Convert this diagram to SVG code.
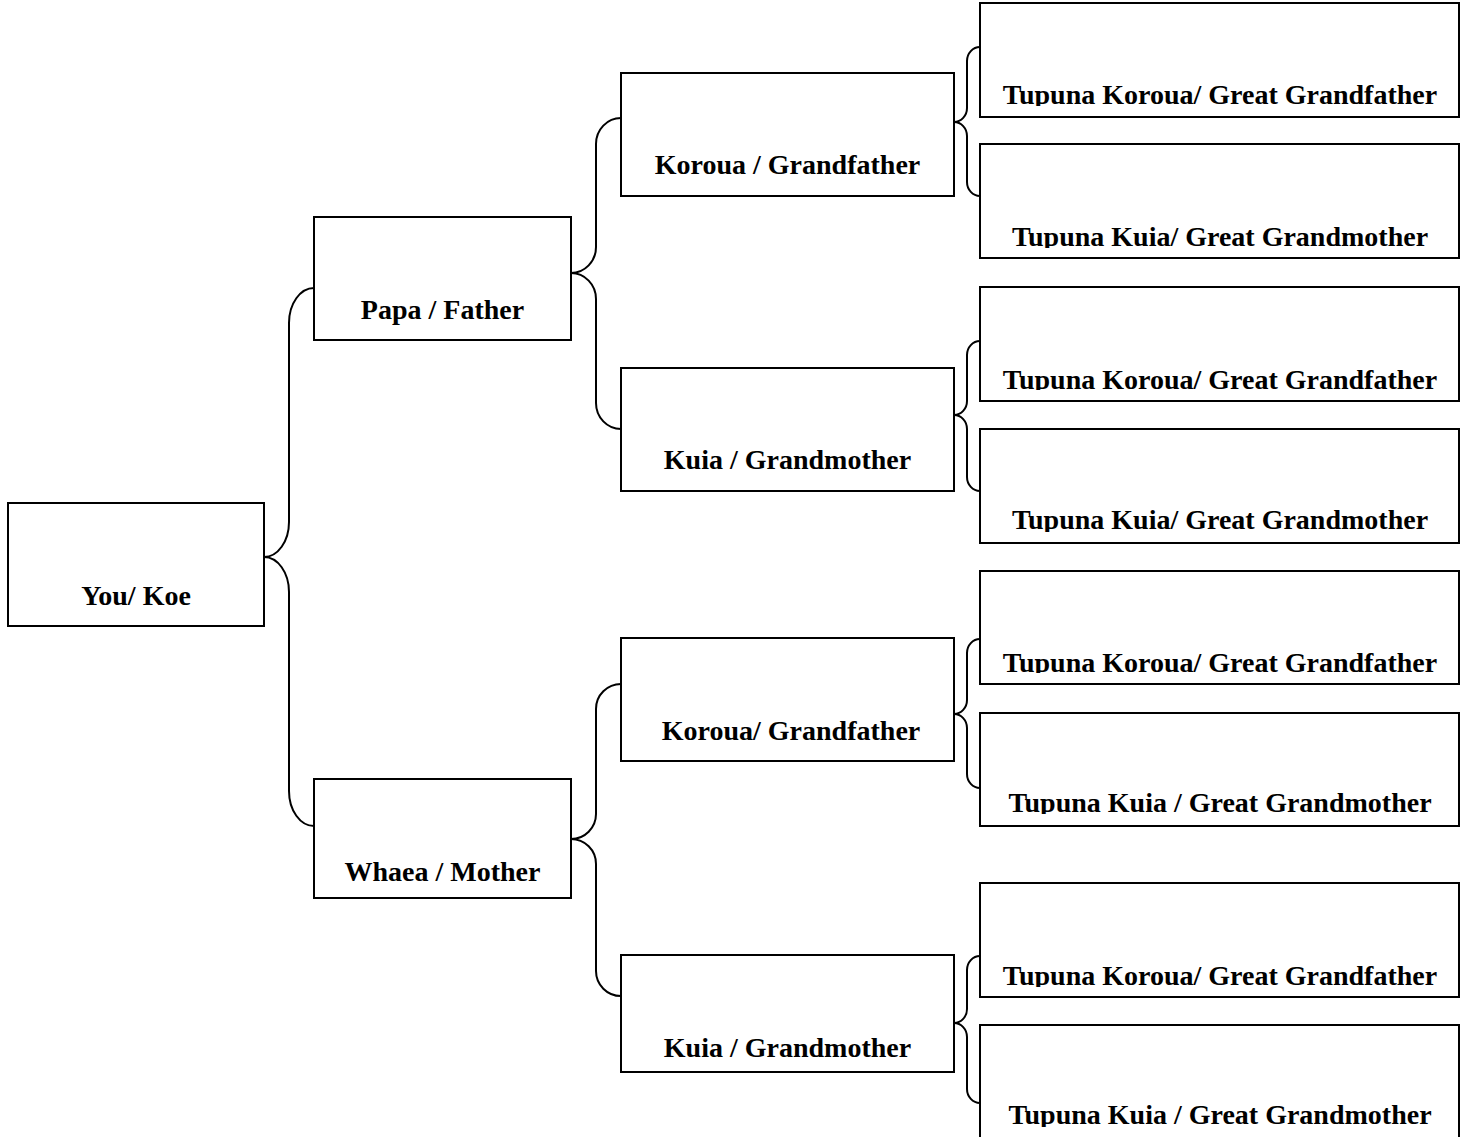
<svg xmlns="http://www.w3.org/2000/svg" width="1461" height="1137" viewBox="0 0 1461 1137">
<style>
.box{fill:#fff;stroke:#000;stroke-width:2}
.lbl{font-family:"Liberation Serif","Times New Roman",serif;font-weight:bold;font-size:28px;fill:#000;text-anchor:middle}
.brace{fill:none;stroke:#000;stroke-width:2}
</style>
<defs>
<clipPath id="c1"><rect x="980" y="3" width="479" height="103"/></clipPath>
<clipPath id="c2"><rect x="980" y="144" width="479" height="104"/></clipPath>
<clipPath id="c3"><rect x="980" y="287" width="479" height="103"/></clipPath>
<clipPath id="c4"><rect x="980" y="429" width="479" height="103"/></clipPath>
<clipPath id="c5"><rect x="980" y="571" width="479" height="102"/></clipPath>
<clipPath id="c6"><rect x="980" y="713" width="479" height="101"/></clipPath>
<clipPath id="c7"><rect x="980" y="883" width="479" height="104"/></clipPath>
<clipPath id="c8"><rect x="980" y="1025" width="479" height="102"/></clipPath>
</defs>
<rect width="1461" height="1137" fill="#fff"/>
<g id="connectors">
<path class="brace" d="M314 288 A25 35 0 0 0 289 323 L289 522 A25 35 0 0 1 264 557 A25 35 0 0 1 289 592 L289 791 A25 35 0 0 0 314 826"/>
<path class="brace" d="M621 118 A25 26 0 0 0 596 144 L596 247 A25 26 0 0 1 571 273 A25 26 0 0 1 596 299 L596 403 A25 26 0 0 0 621 429"/>
<path class="brace" d="M621 684 A25 25 0 0 0 596 709 L596 814 A25 25 0 0 1 571 839 A25 25 0 0 1 596 864 L596 971 A25 25 0 0 0 621 996"/>
<path class="brace" d="M980 47 A13 14 0 0 0 967 61 L967 108 A13 14 0 0 1 954 122 A13 14 0 0 1 967 136 L967 182 A13 14 0 0 0 980 196"/>
<path class="brace" d="M980 341 A13 14 0 0 0 967 355 L967 401 A13 14 0 0 1 954 415 A13 14 0 0 1 967 429 L967 477 A13 14 0 0 0 980 491"/>
<path class="brace" d="M980 639 A13 14 0 0 0 967 653 L967 700 A13 14 0 0 1 954 714 A13 14 0 0 1 967 728 L967 774 A13 14 0 0 0 980 788"/>
<path class="brace" d="M980 956 A13 14 0 0 0 967 970 L967 1009 A13 14 0 0 1 954 1023 A13 14 0 0 1 967 1037 L967 1089 A13 14 0 0 0 980 1103"/>
</g>
<g id="you"><rect class="box" x="8" y="503" width="256" height="123"/><text class="lbl" x="136" y="605">You/ Koe</text></g>
<g id="papa"><rect class="box" x="314" y="217" width="257" height="123"/><text class="lbl" x="442.5" y="319">Papa / Father</text></g>
<g id="whaea"><rect class="box" x="314" y="779" width="257" height="119"/><text class="lbl" x="442.5" y="881">Whaea / Mother</text></g>
<g id="koroua1"><rect class="box" x="621" y="73" width="333" height="123"/><text class="lbl" x="787.5" y="174">Koroua / Grandfather</text></g>
<g id="kuia1"><rect class="box" x="621" y="368" width="333" height="123"/><text class="lbl" x="787.5" y="469">Kuia / Grandmother</text></g>
<g id="koroua2"><rect class="box" x="621" y="638" width="333" height="123"/><text class="lbl" x="791" y="740">Koroua/ Grandfather</text></g>
<g id="kuia2"><rect class="box" x="621" y="955" width="333" height="117"/><text class="lbl" x="787.5" y="1057">Kuia / Grandmother</text></g>
<g id="gg1"><rect class="box" x="980" y="3" width="479" height="114"/><text class="lbl" x="1220" y="104" clip-path="url(#c1)">Tupuna Koroua/ Great Grandfather</text></g>
<g id="gg2"><rect class="box" x="980" y="144" width="479" height="114"/><text class="lbl" x="1220" y="246" clip-path="url(#c2)">Tupuna Kuia/ Great Grandmother</text></g>
<g id="gg3"><rect class="box" x="980" y="287" width="479" height="114"/><text class="lbl" x="1220" y="389" clip-path="url(#c3)">Tupuna Koroua/ Great Grandfather</text></g>
<g id="gg4"><rect class="box" x="980" y="429" width="479" height="114"/><text class="lbl" x="1220" y="529" clip-path="url(#c4)">Tupuna Kuia/ Great Grandmother</text></g>
<g id="gg5"><rect class="box" x="980" y="571" width="479" height="113"/><text class="lbl" x="1220" y="672" clip-path="url(#c5)">Tupuna Koroua/ Great Grandfather</text></g>
<g id="gg6"><rect class="box" x="980" y="713" width="479" height="113"/><text class="lbl" x="1220" y="812" clip-path="url(#c6)">Tupuna Kuia / Great Grandmother</text></g>
<g id="gg7"><rect class="box" x="980" y="883" width="479" height="114"/><text class="lbl" x="1220" y="985" clip-path="url(#c7)">Tupuna Koroua/ Great Grandfather</text></g>
<g id="gg8"><rect class="box" x="980" y="1025" width="479" height="120"/><text class="lbl" x="1220" y="1124" clip-path="url(#c8)">Tupuna Kuia / Great Grandmother</text></g>
</svg>
